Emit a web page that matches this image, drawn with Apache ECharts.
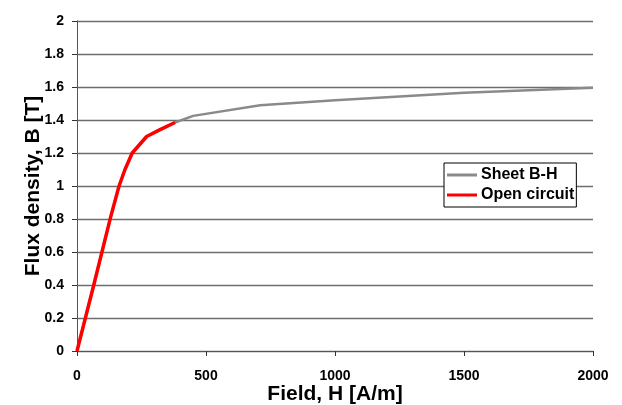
<!DOCTYPE html>
<html>
<head>
<meta charset="utf-8">
<script src="https://cdn.jsdelivr.net/npm/echarts@6/dist/echarts.min.js"></script>
<style>
html, body { margin: 0; padding: 0; background: #fff; }
#container { width: 622px; height: 405px; }
</style>
</head>
<body>
<div id="container"></div>
<script>
// sheet B-H curve, H in A/m
var sheetH = [0, 65, 130, 163, 186, 214, 270, 320, 380, 450, 710, 1000, 1500, 2000];
var sheetB = [0, 0.40, 0.81, 1.00, 1.10, 1.20, 1.30, 1.34, 1.385, 1.425, 1.49, 1.52, 1.565, 1.595];
// open circuit result
var openH = [0, 65, 130, 163, 186, 214, 270, 320, 380];
var openB = [0, 0.40, 0.81, 1.00, 1.10, 1.20, 1.30, 1.34, 1.385];

function pairs(xs, ys) {
    var out = [];
    for (var i = 0; i < xs.length; i++) {
        out.push([xs[i], ys[i]]);
    }
    return out;
}

var dom = document.getElementById("container");
var myChart = echarts.init(dom);
var font = 'Liberation Sans, Arial, sans-serif';
option = {
    animation: false,
    backgroundColor: '#fff',
    grid: {
        left: 77,
        right: 29,
        top: 21,
        bottom: 54,
        containLabel: false,
        outerBoundsMode: 'none'
    },
    legend: {
        orient: 'vertical',
        left: 444,
        top: 163,
        padding: [4, 2, 4, 3],
        itemGap: 4,
        itemWidth: 30,
        itemHeight: 3,
        icon: 'rect',
        borderColor: '#000',
        borderWidth: 1,
        backgroundColor: '#fff',
        textStyle: {
            fontFamily: font,
            fontWeight: 'bold',
            fontSize: 16,
            color: '#000',
            padding: [0, 0, 0, -1]
        },
        data: ['Sheet B-H', 'Open circuit']
    },
    xAxis: {
        type: 'value',
        min: 0,
        max: 2000,
        interval: 500,
        name: 'Field, H [A/m]',
        nameLocation: 'middle',
        nameGap: 33,
        nameMoveOverlap: false,
        nameTextStyle: {
            fontFamily: font,
            fontWeight: 'bold',
            fontSize: 21,
            color: '#000'
        },
        axisLine: { lineStyle: { color: '#555', width: 1 } },
        axisTick: { show: true, length: 5, lineStyle: { color: '#333' } },
        axisLabel: {
            margin: 18,
            fontFamily: font,
            fontWeight: 'bold',
            fontSize: 14,
            color: '#000',
            formatter: function (v) { return String(v); }
        },
        splitLine: { show: false }
    },
    yAxis: {
        type: 'value',
        min: 0,
        max: 2,
        interval: 0.2,
        name: 'Flux density, B [T]',
        nameLocation: 'middle',
        nameGap: 33,
        nameMoveOverlap: false,
        nameTextStyle: {
            fontFamily: font,
            fontWeight: 'bold',
            fontSize: 21,
            color: '#000'
        },
        axisLine: { show: true, lineStyle: { color: '#555', width: 1 } },
        axisTick: { show: true, length: 5, lineStyle: { color: '#333' } },
        axisLabel: {
            margin: 13,
            fontFamily: font,
            fontWeight: 'bold',
            fontSize: 14,
            color: '#000'
        },
        splitLine: { show: true, lineStyle: { color: '#6e6e6e', width: 1.3 } }
    },
    series: [{
        name: 'Sheet B-H',
        type: 'line',
        data: pairs(sheetH, sheetB),
        showSymbol: false,
        color: '#8a8a8a',
        lineStyle: { color: '#8a8a8a', width: 2.5 }
    }, {
        name: 'Open circuit',
        type: 'line',
        data: pairs(openH, openB),
        showSymbol: false,
        color: '#ff0000',
        lineStyle: { color: '#ff0000', width: 3.5 }
    }]
};
if (option && typeof option === "object") {
    myChart.setOption(option, true);
}
</script>
</body>
</html>
